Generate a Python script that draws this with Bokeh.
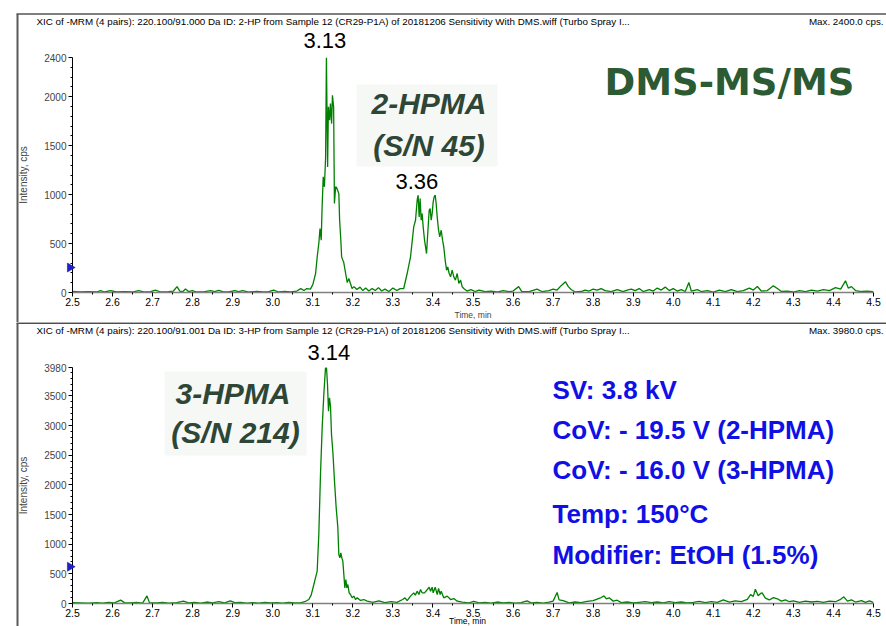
import math
from bokeh.plotting import figure
from bokeh.layouts import column
from bokeh.models import Range1d, FixedTicker, PrintfTickFormatter
from bokeh.core.properties import value
from bokeh.embed import file_html
from bokeh.resources import INLINE

# ---------------- data ----------------
time_2hp = [2.500, 2.52, 2.54, 2.56, 2.570, 2.58, 2.595, 2.61, 2.63, 2.65, 2.665, 2.68, 2.695, 2.707,
            2.72, 2.74, 2.752, 2.761, 2.768, 2.775, 2.782, 2.79, 2.799, 2.81, 2.83, 2.845, 2.855, 2.865,
            2.875, 2.89, 2.905, 2.915, 2.925, 2.94, 2.96, 2.975, 2.99, 3.002, 3.015, 3.03, 3.045, 3.06,
            3.07, 3.078, 3.085, 3.094, 3.100, 3.107, 3.111, 3.115, 3.118, 3.121, 3.123, 3.126, 3.129,
            3.132, 3.134, 3.137, 3.139, 3.142, 3.144, 3.147, 3.149, 3.152, 3.154, 3.157, 3.159, 3.162,
            3.165, 3.167, 3.170, 3.172, 3.175, 3.177, 3.182, 3.186, 3.190, 3.194, 3.198, 3.203, 3.210,
            3.218, 3.225, 3.232, 3.240, 3.248, 3.256, 3.264, 3.272, 3.280, 3.290, 3.300, 3.310, 3.318,
            3.327, 3.3356, 3.344, 3.352, 3.3565, 3.3606, 3.363, 3.3656, 3.368, 3.3706, 3.373, 3.3756,
            3.379, 3.384, 3.387, 3.3906, 3.393, 3.3956, 3.398, 3.4006, 3.403, 3.4056, 3.408, 3.4106,
            3.414, 3.417, 3.4206, 3.424, 3.427, 3.4305, 3.434, 3.437, 3.4405, 3.444, 3.448, 3.452,
            3.456, 3.4605, 3.4646, 3.469, 3.473, 3.477, 3.485, 3.495, 3.505, 3.515, 3.53, 3.545, 3.56,
            3.575, 3.59, 3.60, 3.614, 3.622, 3.64, 3.66, 3.672, 3.69, 3.70, 3.71, 3.72, 3.731, 3.738,
            3.745, 3.755, 3.77, 3.78, 3.79, 3.80, 3.81, 3.82, 3.83, 3.845, 3.86, 3.875, 3.885, 3.895,
            3.905, 3.915, 3.925, 3.94, 3.95, 3.96, 3.97, 3.98, 3.99, 4.00, 4.01, 4.02, 4.03, 4.039,
            4.045, 4.06, 4.07, 4.085, 4.10, 4.115, 4.13, 4.145, 4.16, 4.175, 4.19, 4.20, 4.21, 4.22,
            4.235, 4.25, 4.26, 4.27, 4.285, 4.30, 4.315, 4.33, 4.345, 4.36, 4.375, 4.39, 4.405, 4.418,
            4.43, 4.437, 4.445, 4.455, 4.47, 4.485, 4.50]
int_2hp = [10, 5, 8, 5, 20, 5, 18, 5, 8, 5, 20, 5, 8, 25,
           5, 8, 15, 60, 15, 8, 35, 10, 20, 5, 8, 20, 10, 22,
           8, 5, 18, 8, 20, 5, 10, 5, 8, 25, 5, 10, 5, 15,
           40, 20, 40, 35, 80, 194, 364, 500, 653, 534, 840, 1181, 1079,
           1385, 2400, 1283, 1896, 1759, 1930, 1725, 2015, 1896, 909, 1079, 1075, 1045,
           1011, 738, 534, 364, 330, 313, 194, 102, 143, 92, 41, 60, 30,
           55, 20, 45, 15, 40, 20, 50, 15, 35, 10, 45, 20, 40,
           41, 194, 364, 670, 738, 943, 994, 772, 960, 738, 806, 670,
           534, 398, 602, 840, 858, 738, 806, 926, 977, 994, 909, 772,
           636, 568, 636, 534, 466, 330, 228, 262, 194, 160, 228, 160,
           126, 194, 92, 126, 58, 41, 15, 30, 10, 25, 8, 15, 5,
           20, 8, 15, 60, 10, 8, 35, 10, 20, 35, 25, 70, 109, 60,
           30, 5, 10, 25, 15, 35, 25, 40, 20, 10, 30, 10, 25, 35,
           20, 40, 10, 30, 15, 45, 25, 55, 20, 40, 15, 30, 10, 102,
           15, 30, 10, 20, 5, 25, 10, 30, 8, 20, 45, 25, 61, 15,
           20, 68, 40, 10, 15, 5, 20, 10, 25, 15, 30, 20, 50, 35,
           119, 45, 60, 20, 10, 15, 8]

time_3hp = [2.500, 2.52, 2.54, 2.56, 2.575, 2.59, 2.605, 2.62, 2.63, 2.645, 2.66, 2.675, 2.686, 2.692,
            2.71, 2.725, 2.74, 2.76, 2.777, 2.79, 2.805, 2.82, 2.835, 2.85, 2.865, 2.88, 2.894, 2.905,
            2.92, 2.935, 2.95, 2.965, 2.98, 2.995, 3.01, 3.025, 3.04, 3.055, 3.069, 3.08, 3.0901,
            3.0959, 3.1026, 3.1067, 3.1109, 3.115, 3.1192, 3.1234, 3.1275, 3.1317, 3.1342, 3.1367,
            3.1392, 3.1417, 3.1442, 3.1467, 3.15, 3.1542, 3.1584, 3.1609, 3.1625, 3.165, 3.1675, 3.17,
            3.1725, 3.175, 3.1775, 3.18, 3.1825, 3.185, 3.1875, 3.1908, 3.1941, 3.1983, 3.2025, 3.2066,
            3.2108, 3.2191, 3.2274, 3.2358, 3.25, 3.265, 3.28, 3.295, 3.31, 3.3243, 3.33, 3.3356,
            3.344, 3.352, 3.356, 3.3606, 3.365, 3.369, 3.373, 3.379, 3.386, 3.3906, 3.394, 3.398,
            3.4006, 3.4056, 3.4106, 3.414, 3.418, 3.4206, 3.427, 3.4356, 3.444, 3.4523, 3.4606, 3.473,
            3.49, 3.502, 3.515, 3.53, 3.545, 3.56, 3.575, 3.59, 3.605, 3.62, 3.635, 3.645, 3.66, 3.675,
            3.69, 3.70, 3.710, 3.715, 3.725, 3.74, 3.755, 3.77, 3.785, 3.80, 3.81, 3.82, 3.827, 3.833,
            3.84, 3.85, 3.86, 3.87, 3.885, 3.90, 3.915, 3.93, 3.945, 3.96, 3.975, 3.99, 4.005, 4.02,
            4.035, 4.05, 4.065, 4.08, 4.095, 4.11, 4.125, 4.14, 4.155, 4.17, 4.185, 4.193, 4.20, 4.205,
            4.212, 4.218, 4.222, 4.23, 4.24, 4.25, 4.26, 4.27, 4.28, 4.29, 4.30, 4.315, 4.33, 4.345,
            4.36, 4.375, 4.39, 4.405, 4.418, 4.426, 4.435, 4.445, 4.455, 4.47, 4.48, 4.49, 4.50]
int_3hp = [15, 10, 5, 15, 8, 20, 10, 56, 15, 10, 20, 5, 129, 15,
           10, 20, 5, 15, 40, 10, 20, 8, 25, 10, 30, 10, 45, 15,
           20, 5, 15, 8, 20, 10, 15, 5, 20, 10, 11, 30, 67,
           141, 320, 433, 545, 1163, 2175, 2962, 3524, 3973, 3980, 3692,
           3243, 3468, 3327, 2849, 2568, 2063, 1613, 1416, 1276, 826, 770, 854,
           770, 714, 489, 264, 405, 264, 320, 180, 152, 96, 124, 67,
           96, 51, 67, 39, 20, 45, 15, 30, 20, 67, 96, 50,
           124, 180, 141, 208, 152, 236, 180, 180, 236, 275, 208, 275,
           180, 275, 152, 253, 152, 208, 96, 124, 67, 84, 39, 22,
           10, 35, 10, 20, 5, 25, 10, 20, 8, 15, 45, 10, 20, 8,
           25, 40, 185, 60, 50, 10, 25, 15, 35, 50, 75, 100, 129, 80,
           95, 40, 55, 15, 25, 10, 20, 30, 15, 25, 10, 30, 15, 25,
           10, 20, 35, 15, 30, 20, 60, 25, 45, 30, 70, 150, 120, 242,
           130, 170, 180, 90, 60, 100, 80, 40, 60, 30, 45, 20, 40, 25,
           35, 20, 40, 30, 70, 112, 40, 60, 25, 50, 20, 45, 15]

x_ticks = [2.5, 2.6, 2.7, 2.8, 2.9, 3.0, 3.1, 3.2, 3.3, 3.4, 3.5, 3.6, 3.7, 3.8, 3.9, 4.0,
           4.1, 4.2, 4.3, 4.4, 4.5]
y_ticks_2hp = [0, 500, 1000, 1500, 2000, 2400]
y_ticks_3hp = [0, 500, 1000, 1500, 2000, 2500, 3000, 3500, 3980]
y_max_2hp = 2400
y_max_3hp = 3980
threshold_2hp = 255
threshold_3hp = 620
peak_rt_2hp = [3.13, 3.36]
peak_rt_3hp = [3.14]

header_2hp = ("XIC of -MRM (4 pairs): 220.100/91.000 Da ID: 2-HP from Sample 12 (CR29-P1A) of "
              "20181206 Sensitivity With DMS.wiff (Turbo Spray I...")
header_3hp = ("XIC of -MRM (4 pairs): 220.100/91.001 Da ID: 3-HP from Sample 12 (CR29-P1A) of "
              "20181206 Sensitivity With DMS.wiff (Turbo Spray I...")
max_2hp = "Max. 2400.0 cps."
max_3hp = "Max. 3980.0 cps."

conditions = ["SV: 3.8 kV", "CoV: - 19.5 V (2-HPMA)", "CoV: - 16.0 V (3-HPMA)",
              "Temp: 150\u00b0C", "Modifier: EtOH (1.5%)"]

# ---------------- layout / style ----------------
FONT = "Liberation Sans"
W = 886
FL, FR = 72, 873
GREEN = "#008000"
NAME_COLOR = "#2d4636"
BLUE = "#1010e6"
NOTE_BG = "#f6f8f5"


def panel(t, v, y_max, y_ticks, thr, header, maxtxt, height, axis_top, zero_px,
          border_y, header_y, xlabel):
    p = figure(width=W, height=height, x_range=Range1d(2.5, 4.5), y_range=Range1d(0, y_max),
               output_backend="svg", toolbar_location=None,
               min_border_left=FL, min_border_right=W - FR,
               min_border_top=axis_top, min_border_bottom=height - zero_px)
    p.outline_line_color = None
    p.xgrid.visible = False
    p.ygrid.visible = False
    p.background_fill_color = "white"
    p.border_fill_color = "white"

    def X(px):
        return 2.5 + (px - FL) * 2.0 / (FR - FL)

    def Y(py):
        return y_max * (zero_px - py) / (zero_px - axis_top)

    p.line(t, v, line_color=GREEN, line_width=1.3)

    xa = p.xaxis[0]
    xa.ticker = FixedTicker(ticks=x_ticks,
                            minor_ticks=[round(x + 0.05, 2) for x in x_ticks[:-1]])
    xa.formatter = PrintfTickFormatter(format="%.1f")
    xa.axis_line_color = "#808080"
    xa.axis_line_width = 1.6
    xa.major_tick_line_color = "black"
    xa.minor_tick_line_color = "black"
    xa.major_tick_in = 0
    xa.major_tick_out = 4
    xa.minor_tick_in = 0
    xa.minor_tick_out = 2
    xa.major_label_standoff = 1
    xa.major_label_text_font = FONT
    xa.major_label_text_font_size = "10.5px"
    xa.major_label_text_color = "black"
    if xlabel:
        xa.axis_label = "Time, min"
        xa.axis_label_text_font = FONT
        xa.axis_label_text_font_size = "8.5px"
        xa.axis_label_text_font_style = "normal"
        xa.axis_label_standoff = 1

    ya = p.yaxis[0]
    ya.ticker = FixedTicker(ticks=y_ticks,
                            minor_ticks=[m for m in range(0, y_max, 100) if m not in y_ticks])
    ya.axis_line_color = "black"
    ya.major_tick_in = 0
    ya.major_tick_out = 4
    ya.minor_tick_in = 0
    ya.minor_tick_out = 2
    ya.major_label_standoff = 2
    ya.major_label_text_font = FONT
    ya.major_label_text_font_size = "10px"
    ya.axis_label = "Intensity, cps"
    ya.axis_label_text_font = FONT
    ya.axis_label_text_font_size = "10px"
    ya.axis_label_text_font_style = "normal"
    ya.axis_label_standoff = 12

    # window frame of the panel, header strip, threshold marker (drawn over everything)
    p.segment(x0=[X(16)], y0=[Y(border_y)], x1=[X(W + 4)], y1=[Y(border_y)],
              line_color="black", line_width=1, level="overlay")
    p.segment(x0=[X(17)], y0=[Y(border_y)], x1=[X(17)], y1=[Y(height + 4)],
              line_color="#5a5a5a", line_width=2, level="overlay")
    p.scatter(x=[X(25.5)], y=[Y(border_y + 3.5)], marker="square", size=7,
              fill_color="#149614", line_color="#0b4d0b", line_width=1, level="overlay")
    p.text(x=[X(36)], y=[Y(header_y)], text=[header], text_font=value(FONT),
           text_font_size=value("9.8px"), text_baseline="middle", text_align="left",
           text_color="black", level="overlay")
    p.text(x=[X(883)], y=[Y(header_y)], text=[maxtxt], text_font=value(FONT),
           text_font_size=value("9.8px"), text_baseline="middle", text_align="right",
           text_color="black", level="overlay")
    p.scatter(x=[X(69.5)], y=[thr], marker="triangle", angle=-math.pi / 2, size=9,
              fill_color="#1f1fd0", line_color="#10107a", line_width=0.5, level="overlay")
    return p, X, Y


p1, X1, Y1 = panel(time_2hp, int_2hp, y_max_2hp, y_ticks_2hp, threshold_2hp, header_2hp, max_2hp,
                   height=322, axis_top=57, zero_px=292, border_y=13.5, header_y=21, xlabel=True)
p2, X2, Y2 = panel(time_3hp, int_3hp, y_max_3hp, y_ticks_3hp, threshold_3hp, header_3hp, max_3hp,
                   height=304, axis_top=45, zero_px=281, border_y=0.7, header_y=7.5, xlabel=False)

# faint note boxes behind the compound names
p1.quad(left=[X1(356)], right=[X1(497)], top=[Y1(84)], bottom=[Y1(166)],
        fill_color=NOTE_BG, line_color=None, level="underlay")
p2.quad(left=[X2(164)], right=[X2(306)], top=[Y2(371 - 322)], bottom=[Y2(455 - 322)],
        fill_color=NOTE_BG, line_color=None, level="underlay")

# peak retention-time labels (placed just above each apex)
p1.text(x=peak_rt_2hp, y=[Y1(40), Y1(181)], text=[f"{rt:.2f}" for rt in peak_rt_2hp],
        text_font=value(FONT), text_font_size=value("22px"), text_align="center",
        text_baseline="middle", text_color="black", level="overlay")
p2.text(x=peak_rt_3hp, y=[Y2(352 - 322)], text=[f"{rt:.2f}" for rt in peak_rt_3hp],
        text_font=value(FONT), text_font_size=value("22px"), text_align="center",
        text_baseline="middle", text_color="black", level="overlay")

# compound names
p1.text(x=[X1(428.5), X1(428.5)], y=[Y1(102.5), Y1(145)], text=["2-HPMA", "(S/N 45)"],
        text_font=value(FONT), text_font_size=value("30px"), text_font_style=value("bold italic"),
        text_color=NAME_COLOR, text_align="center", text_baseline="middle", level="overlay")
p1.text(x=[X1(729)], y=[Y1(81.5)], text=["DMS-MS/MS"], text_font=value("DejaVu Sans"),
        text_font_size=value("37px"), text_font_style=value("bold"), text_color="#2b5a33",
        text_align="center", text_baseline="middle", level="overlay")
p2.text(x=[X2(232.5), X2(235)], y=[Y2(393 - 322), Y2(432 - 322)], text=["3-HPMA", "(S/N 214)"],
        text_font=value(FONT), text_font_size=value("30px"), text_font_style=value("bold italic"),
        text_color=NAME_COLOR, text_align="center", text_baseline="middle", level="overlay")

# DMS conditions
cond_px_y = [389, 429, 469, 513, 554]
p2.text(x=[X2(552)] * len(conditions), y=[Y2(py - 322) for py in cond_px_y], text=conditions,
        text_font=value(FONT), text_font_size=value("26px"), text_font_style=value("bold"),
        text_color=BLUE, text_align="left", text_baseline="middle", level="overlay")

# x-axis title of the lower panel (sits at the bottom edge of the window)
p2.text(x=[X2(467)], y=[Y2(620 - 322)], text=["Time, min"], text_font=value(FONT),
        text_font_size=value("8.5px"), text_align="center", text_baseline="middle",
        text_color="black", level="overlay")

layout = column(p1, p2, spacing=0)
open("out.html", "w").write(file_html(layout, INLINE))
